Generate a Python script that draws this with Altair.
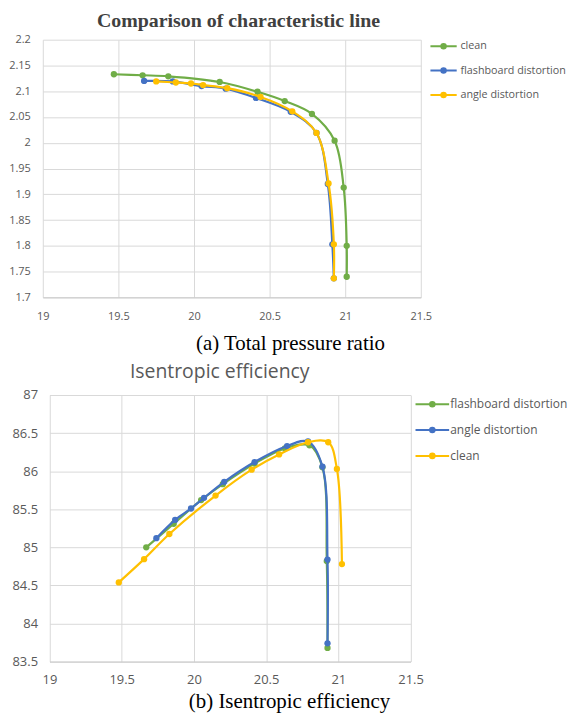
import altair as alt
import pandas as pd

# ---------------- data ----------------
# (a) Total pressure ratio
TOP_SERIES = ["clean", "flashboard distortion", "angle distortion"]
TOP_COLORS = ["#70AD47", "#4472C4", "#FFC000"]
top_clean_x = [19.47, 19.66, 19.83, 20.17, 20.42, 20.60, 20.78, 20.93, 20.99, 21.01, 21.01]
top_clean_y = [2.133, 2.131, 2.129, 2.118, 2.099, 2.081, 2.056, 2.004, 1.913, 1.800, 1.740]
top_flash_x = [19.67, 19.86, 20.05, 20.21, 20.41, 20.64, 20.81, 20.885, 20.915, 20.925]
top_flash_y = [2.120, 2.119, 2.110, 2.105, 2.087, 2.060, 2.019, 1.920, 1.803, 1.737]
top_angle_x = [19.75, 19.88, 19.98, 20.06, 20.22, 20.44, 20.65, 20.81, 20.89, 20.925, 20.925]
top_angle_y = [2.119, 2.117, 2.115, 2.112, 2.106, 2.089, 2.061, 2.019, 1.921, 1.803, 1.737]

# (b) Isentropic efficiency
BOT_SERIES = ["flashboard distortion", "angle distortion", "clean"]
BOT_COLORS = ["#70AD47", "#4472C4", "#FFC000"]
bot_flash_x = [19.67, 19.86, 20.05, 20.20, 20.42, 20.63, 20.80, 20.89, 20.92, 20.925]
bot_flash_y = [85.00, 85.31, 85.62, 85.83, 86.10, 86.30, 86.34, 86.05, 84.82, 83.68]
bot_angle_x = [19.74, 19.87, 19.98, 20.07, 20.21, 20.42, 20.645, 20.79, 20.89, 20.925, 20.925]
bot_angle_y = [85.12, 85.36, 85.51, 85.65, 85.86, 86.12, 86.33, 86.39, 86.06, 84.84, 83.74]
bot_clean_x = [19.48, 19.655, 19.83, 20.15, 20.40, 20.59, 20.79, 20.93, 20.99, 21.025]
bot_clean_y = [84.54, 84.845, 85.175, 85.68, 86.02, 86.22, 86.38, 86.38, 86.03, 84.78]

X_TICKS = [19, 19.5, 20, 20.5, 21, 21.5]
TOP_Y_TICKS = [1.7, 1.75, 1.8, 1.85, 1.9, 1.95, 2.0, 2.05, 2.1, 2.15, 2.2]
BOT_Y_TICKS = [83.5, 84, 84.5, 85, 85.5, 86, 86.5, 87]

TOP_TITLE = "Comparison of characteristic line"
TOP_CAPTION = "(a) Total pressure ratio"
BOT_TITLE = "Isentropic efficiency"
BOT_CAPTION = "(b) Isentropic efficiency"

GRID = "#D9D9D9"
LABEL = "#595959"


def symbol_path(half, r2, r1):
    return (f"M-{half},0L{half},0"
            f"M{r2},0A{r2},{r2} 0 1,1 -{r2},0A{r2},{r2} 0 1,1 {r2},0"
            f"M{r1},0A{r1},{r1} 0 1,1 -{r1},0A{r1},{r1} 0 1,1 {r1},0")


def panel(series, colors, xs_list, ys_list, width, height, x_shift, y_ticks, title,
          caption, lab_size, x_lab_pad, y_lab_pad, cap_pad, cap_x, legend):
    cscale = alt.Scale(domain=series, range=colors)
    xaxis = alt.Axis(values=X_TICKS, format="~g", grid=True, gridColor=GRID,
                     ticks=False, tickSize=0, domain=True, domainColor="#C9C9C9",
                     labelFont="Open Sans", labelFontSize=lab_size, labelColor=LABEL,
                     labelPadding=x_lab_pad, title=caption, titleFont="Liberation Serif",
                     titleFontSize=21, titleFontWeight="normal", titleColor="#000000",
                     titlePadding=cap_pad, titleX=cap_x,
                     titleAlign="center", labelFlush=False)
    yaxis = alt.Axis(values=y_ticks, format="~g", grid=True, gridColor=GRID,
                     ticks=False, tickSize=0, domain=False, offset=-x_shift,
                     labelFont="Open Sans", labelFontSize=lab_size, labelColor=LABEL,
                     labelPadding=y_lab_pad, title=None)
    xscale = alt.Scale(domain=[X_TICKS[0], X_TICKS[-1]], range=[x_shift, x_shift + width],
                       nice=False, zero=False)
    layers = []
    for name, xs, ys in zip(series, xs_list, ys_list):
        df = pd.DataFrame({"series": name, "x": xs, "y": ys, "idx": list(range(len(xs)))})
        layers.append(
            alt.Chart(df).mark_line(
                strokeWidth=2.2, interpolate="catmull-rom",
                point=alt.OverlayMarkDef(filled=True, size=40, opacity=1)
            ).encode(
                x=alt.X("x:Q", scale=xscale, axis=xaxis),
                y=alt.Y("y:Q", scale=alt.Scale(domain=[y_ticks[0], y_ticks[-1]], nice=False, zero=False), axis=yaxis),
                color=alt.Color("series:N", scale=cscale, legend=legend),
                order=alt.Order("idx:Q"),
            )
        )
    return alt.layer(*layers).properties(width=width + x_shift, height=height, title=title)


top_legend = alt.Legend(
    title=None, orient="none", legendX=389.9, legendY=-6.5, direction="vertical",
    symbolType=symbol_path(1.1, 0.19, 0.08), symbolSize=576, symbolStrokeWidth=2,
    labelFont="Open Sans", labelFontSize=10.8, labelColor=LABEL, labelOffset=4,
    rowPadding=4.5, padding=0, labelLimit=300,
)
bot_legend = alt.Legend(
    title=None, orient="none", legendX=377.6, legendY=-4.8, direction="vertical",
    symbolType=symbol_path(1.3, 0.177, 0.075), symbolSize=676, symbolStrokeWidth=2,
    labelFont="Open Sans", labelFontSize=12, labelColor=LABEL, labelOffset=4,
    rowPadding=5, padding=0, labelLimit=300,
)

top = panel(
    TOP_SERIES, TOP_COLORS, [top_clean_x, top_flash_x, top_angle_x],
    [top_clean_y, top_flash_y, top_angle_y], 380, 259, 0, TOP_Y_TICKS,
    alt.TitleParams(TOP_TITLE, font="Liberation Serif", fontSize=20, fontWeight="bold",
                    color="#404040", anchor="middle", frame="group", offset=2.6, dx=6.7),
    TOP_CAPTION, 11, 13, 12.5, 11.8, 248.5, top_legend,
)
bot = panel(
    BOT_SERIES, BOT_COLORS, [bot_flash_x, bot_angle_x, bot_clean_x],
    [bot_flash_y, bot_angle_y, bot_clean_y], 363, 268, 6.7, BOT_Y_TICKS,
    alt.TitleParams(BOT_TITLE, font="Open Sans", fontSize=19.5, fontWeight="normal",
                    color="#595959", anchor="middle", frame="group", offset=7.1, dx=-7),
    BOT_CAPTION, 13, 12.1, 12, 4.4, 247.5, bot_legend,
)

chart = alt.concat(top, bot, columns=1, align="none", spacing=7.2).resolve_scale(
    color="independent", x="independent", y="independent"
).resolve_legend(color="independent").properties(
    padding=0, background="white"
).configure_view(stroke=None)

chart.save("out.html", embed_options={"renderer": "svg", "actions": False})
